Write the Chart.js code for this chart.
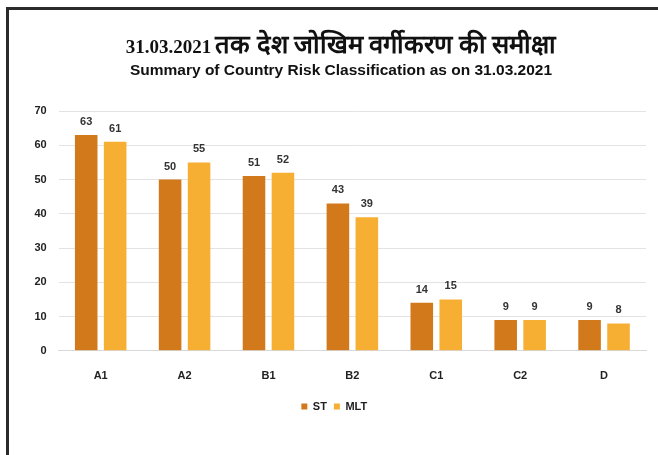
<!DOCTYPE html>
<html>
<head>
<meta charset="utf-8">
<script src="https://cdn.jsdelivr.net/npm/chart.js@4/dist/chart.umd.min.js"></script>
<style>
  html, body { margin: 0; padding: 0; background: #fff; }
  #wrap { position: relative; width: 658px; height: 455px; overflow: hidden; }
  #frame {
    position: absolute; left: 6px; top: 7px; width: 700px; height: 500px;
    border-left: 3px solid #2b2b2b; border-top: 3px solid #2b2b2b;
  }
  canvas { position: absolute; left: 0; top: 0; }
  .title {
    position: absolute; left: 0; width: 682px; text-align: center;
    color: #111; font-weight: bold; white-space: nowrap;
  }
  #t1 { top: 31px; font-family: "Liberation Serif", serif; line-height: 28px; }
  #t1 .num { font-size: 19px; }
  #t1 .hin { font-size: 25.5px; }
  #t2 { top: 61px; font-family: "Liberation Sans", Arial, sans-serif; font-size: 15.5px; line-height: 18px; }
</style>
</head>
<body>
<div id="wrap">
  <div id="frame"></div>
  <canvas id="chart" width="658" height="455"></canvas>
  <div class="title" id="t1"><span class="num">31.03.2021</span> <span class="hin">तक देश जोखिम वर्गीकरण की समीक्षा</span></div>
  <div class="title" id="t2">Summary of Country Risk Classification as on 31.03.2021</div>
</div>
<script>
const categories = ["A1", "A2", "B1", "B2", "C1", "C2", "D"];
const stValues = [63, 50, 51, 43, 14, 9, 9];
const mltValues = [61, 55, 52, 39, 15, 9, 8];
const yTicks = [0, 10, 20, 30, 40, 50, 60, 70];

const stColor = "#D27A1B";
const mltColor = "#F6AF33";

// draws the number above each bar
const valueLabels = {
  id: "valueLabels",
  afterDatasetsDraw(chart) {
    const ctx = chart.ctx;
    ctx.save();
    ctx.font = "bold 11px 'Liberation Sans', Arial, sans-serif";
    ctx.fillStyle = "#333";
    ctx.textAlign = "center";
    ctx.textBaseline = "alphabetic";
    chart.data.datasets.forEach((ds, i) => {
      const meta = chart.getDatasetMeta(i);
      meta.data.forEach((bar, j) => {
        ctx.fillText(String(ds.data[j]), bar.x, bar.y - 10);
      });
    });
    ctx.restore();
  }
};

new Chart(document.getElementById("chart"), {
  type: "bar",
  data: {
    labels: categories,
    datasets: [
      { label: "ST", data: stValues, backgroundColor: stColor, barPercentage: 0.78, categoryPercentage: 0.69 },
      { label: "MLT", data: mltValues, backgroundColor: mltColor, barPercentage: 0.78, categoryPercentage: 0.69 }
    ]
  },
  options: {
    responsive: false,
    animation: false,
    layout: { padding: { left: 22.5, right: 12, top: 111, bottom: 33 } },
    scales: {
      x: {
        grid: { display: false },
        border: { color: "#d9d9d9" },
        ticks: {
          color: "#222",
          padding: 11,
          font: { family: "'Liberation Sans', Arial, sans-serif", size: 11, weight: "bold" }
        }
      },
      y: {
        min: 0,
        max: 70,
        afterBuildTicks: (axis) => { axis.ticks = yTicks.map((v) => ({ value: v })); },
        grid: { color: "#e3e3e3", drawTicks: false },
        border: { display: false },
        ticks: {
          color: "#222",
          padding: 12,
          font: { family: "'Liberation Sans', Arial, sans-serif", size: 11, weight: "bold" }
        }
      }
    },
    plugins: {
      legend: {
        position: "bottom",
        labels: {
          boxWidth: 6,
          boxHeight: 6,
          padding: 7,
          color: "#222",
          font: { family: "'Liberation Sans', Arial, sans-serif", size: 11, weight: "bold" }
        }
      },
      tooltip: { enabled: false }
    }
  },
  plugins: [valueLabels]
});
</script>
</body>
</html>
